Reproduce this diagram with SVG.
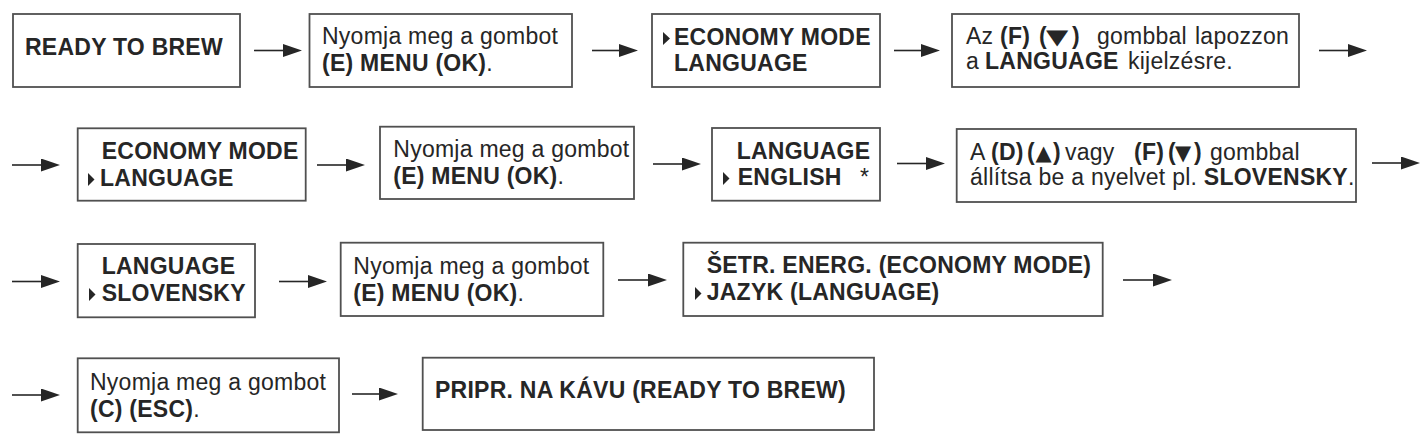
<svg xmlns="http://www.w3.org/2000/svg" width="1426" height="439" viewBox="0 0 1426 439">
<style>
.box{fill:#fff;stroke:#505050;stroke-width:1.8}
.t{font-family:"Liberation Sans",Arial,Helvetica,sans-serif;font-size:23px;letter-spacing:0.25px;fill:#262626}
.b{font-weight:bold}
.sym{font-family:"DejaVu Sans",sans-serif;font-size:21px;fill:#262626}
.ptr{fill:#262626}
.conn path{fill:none;stroke:#262626;stroke-width:1.6;marker-end:url(#ah)}
</style>
<defs>
<marker id="ah" markerUnits="userSpaceOnUse" markerWidth="19" markerHeight="13" refX="1" refY="6.5" orient="auto">
<path d="M0,0 L19,6.5 L0,13 z" fill="#262626"/>
</marker>
</defs>
<rect width="1426" height="439" fill="#fff"/>

<g id="connectors" class="conn">
<path d="M254,50.5 H284"/>
<path d="M592,50.5 H620"/>
<path d="M894,50.5 H922"/>
<path d="M1319,50.5 H1349"/>
<path d="M12,165 H42"/>
<path d="M317,165 H347"/>
<path d="M653,164 H683"/>
<path d="M897,163.5 H927"/>
<path d="M1372,163 H1402"/>
<path d="M12,281.5 H42"/>
<path d="M279,281.5 H309"/>
<path d="M618,280 H649"/>
<path d="M1123,280 H1154"/>
<path d="M12,395 H42"/>
<path d="M352,394 H380"/>
</g>

<g id="n1">
<rect class="box" x="13" y="14" width="227" height="73"/>
<text class="t b" x="25" y="55">READY TO BREW</text>
</g>

<g id="n2">
<rect class="box" x="309.5" y="14" width="262.5" height="73"/>
<text class="t" x="322" y="44">Nyomja meg a gombot</text>
<text class="t" x="322" y="71"><tspan class="b">(E) MENU (OK)</tspan>.</text>
</g>

<g id="n3">
<rect class="box" x="652" y="14" width="228" height="73"/>
<polygon class="ptr" points="663,32 670,38.5 663,45"/>
<text class="t b" x="674" y="45">ECONOMY MODE</text>
<text class="t b" x="674" y="71">LANGUAGE</text>
</g>

<g id="n4">
<rect class="box" x="952" y="14" width="347" height="73"/>
<text class="t" y="44"><tspan x="966">Az</tspan><tspan class="b" x="1000">(F)</tspan><tspan class="b" x="1039">(</tspan><tspan class="b" x="1072">)</tspan><tspan x="1097">gombbal</tspan><tspan x="1195">lapozzon</tspan></text>
<text class="sym" transform="translate(1046,44) scale(1.38,1)">▼</text>
<text class="t" y="69"><tspan x="966">a</tspan><tspan class="b" x="985">LANGUAGE</tspan><tspan x="1128">kijelzésre.</tspan></text>
</g>

<g id="n5">
<rect class="box" x="77.7" y="128.3" width="228" height="72.4"/>
<text class="t b" x="101.7" y="159.3">ECONOMY MODE</text>
<polygon class="ptr" points="88,173 94.5,179.5 88,186"/>
<text class="t b" x="100" y="186">LANGUAGE</text>
</g>

<g id="n6">
<rect class="box" x="380" y="126.7" width="254" height="72.3"/>
<text class="t" x="393.3" y="156.7">Nyomja meg a gombot</text>
<text class="t" x="393.3" y="184"><tspan class="b">(E) MENU (OK)</tspan>.</text>
</g>

<g id="n7">
<rect class="box" x="712" y="128" width="168" height="72.7"/>
<text class="t b" x="736.7" y="159">LANGUAGE</text>
<polygon class="ptr" points="723,172 729.5,178.5 723,185"/>
<text class="t b" x="737.7" y="185">ENGLISH</text>
<text class="t" x="860" y="185">*</text>
</g>

<g id="n8">
<rect class="box" x="956.7" y="129" width="399.3" height="73"/>
<text class="t" y="160"><tspan x="970">A</tspan><tspan class="b" x="991">(D)</tspan><tspan class="b" x="1027">(</tspan><tspan class="b" x="1053">)</tspan><tspan x="1065">vagy</tspan><tspan class="b" x="1134">(F)</tspan><tspan class="b" x="1168">(</tspan><tspan class="b" x="1194">)</tspan><tspan x="1210">gombbal</tspan></text>
<text class="sym" transform="translate(1035.5,160)">▲</text>
<text class="sym" transform="translate(1175,160)">▼</text>
<text class="t" x="970" y="185">állítsa be a nyelvet pl. <tspan class="b">SLOVENSKY</tspan>.</text>
</g>

<g id="n9">
<rect class="box" x="77.7" y="244" width="177.3" height="73.3"/>
<text class="t b" x="101.7" y="274.3">LANGUAGE</text>
<polygon class="ptr" points="89,288 95.5,294.5 89,301"/>
<text class="t b" x="101.7" y="301">SLOVENSKY</text>
</g>

<g id="n10">
<rect class="box" x="340.7" y="242.7" width="262.6" height="73.3"/>
<text class="t" x="353.3" y="274.3">Nyomja meg a gombot</text>
<text class="t" x="353.3" y="300.7"><tspan class="b">(E) MENU (OK)</tspan>.</text>
</g>

<g id="n11">
<rect class="box" x="683.3" y="242.7" width="419.4" height="73.3"/>
<text class="t b" x="706.7" y="273.3">ŠETR. ENERG. (ECONOMY MODE)</text>
<polygon class="ptr" points="695,287 701.5,293.5 695,300"/>
<text class="t b" x="706.7" y="300">JAZYK (LANGUAGE)</text>
</g>

<g id="n12">
<rect class="box" x="77.7" y="358.3" width="261.3" height="74"/>
<text class="t" x="90" y="390">Nyomja meg a gombot</text>
<text class="t" x="90" y="416.7"><tspan class="b">(C) (ESC)</tspan>.</text>
</g>

<g id="n13">
<rect class="box" x="422.7" y="357.7" width="451.3" height="72.3"/>
<text class="t b" x="435" y="398.3">PRIPR. NA KÁVU (READY TO BREW)</text>
</g>
</svg>
